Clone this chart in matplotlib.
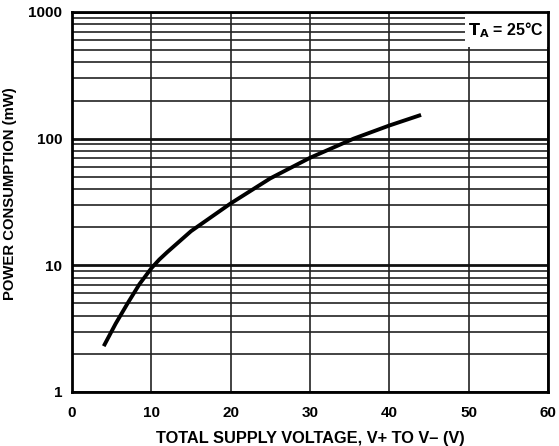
import numpy as np
import matplotlib
matplotlib.use('Agg')
import matplotlib.pyplot as plt
from matplotlib.patches import Rectangle
from matplotlib.ticker import FixedLocator, NullFormatter

plt.rcParams['font.family'] = ['Liberation Sans', 'DejaVu Sans']
plt.rcParams['font.weight'] = 'bold'

# supply voltage (V) vs power consumption (mW)
volts = [4, 5.5, 7, 8.5, 10, 11, 12, 15, 20, 25, 30, 35.5, 40, 44]
power = [2.3, 3.46, 5.0, 7.1, 9.48, 11.1, 12.7, 18.6, 30.8, 48.6, 70.6, 100, 127, 154]

x_ticks = [0, 10, 20, 30, 40, 50, 60]
y_ticks = [1, 10, 100, 1000]
y_labels = ['1', '10', '100', '1000']

fig = plt.figure(figsize=(5.59, 4.46), dpi=100)
ax = fig.add_axes([0.1288, 0.1211, 0.8515, 0.852])

ax.set_yscale('log')
ax.set_xlim(0, 60)
ax.set_ylim(1, 1000)

ax.xaxis.set_major_locator(FixedLocator(x_ticks))
ax.yaxis.set_major_locator(FixedLocator(y_ticks))
ax.set_yticklabels(y_labels)
minors = [m * 10 ** d for d in range(3) for m in range(2, 10)]
ax.yaxis.set_minor_locator(FixedLocator(minors))
ax.yaxis.set_minor_formatter(NullFormatter())

ax.grid(True, which='major', axis='x', color='#222222', linewidth=1.2)
ax.grid(True, which='major', axis='y', color='#111111', linewidth=2.0)
ax.grid(True, which='minor', axis='y', color='#222222', linewidth=1.2)

ax.tick_params(which='both', length=0, labelsize=11)
ax.tick_params(axis='x', pad=10)
ax.tick_params(axis='y', pad=7)
for lbl in ax.get_xticklabels() + ax.get_yticklabels():
    lbl.set_fontweight('bold')

for sp in ax.spines.values():
    sp.set_linewidth(2.0)
    sp.set_zorder(5)

ax.plot(volts, power, color='black', linewidth=2.8, solid_capstyle='butt',
        solid_joinstyle='round', zorder=3)

# white patch behind the temperature note
ax.add_patch(Rectangle((0.8256, 0.908), 0.1744, 0.092, transform=ax.transAxes,
                       facecolor='white', edgecolor='none', zorder=4))
ax.text(0.9107, 0.9526, '$\\mathbf{T_A}$ = 25°C', transform=ax.transAxes,
        ha='center', va='center', fontsize=11.5, fontweight='bold', zorder=5)

ax.set_xlabel('TOTAL SUPPLY VOLTAGE, V+ TO V– (V)', fontsize=11.8, fontweight='bold', labelpad=8)
ax.set_ylabel('POWER CONSUMPTION (mW)', fontsize=10.7, fontweight='bold')
ax.yaxis.set_label_coords(-0.1155, 0.521)

fig.savefig('out.png', dpi=100)
